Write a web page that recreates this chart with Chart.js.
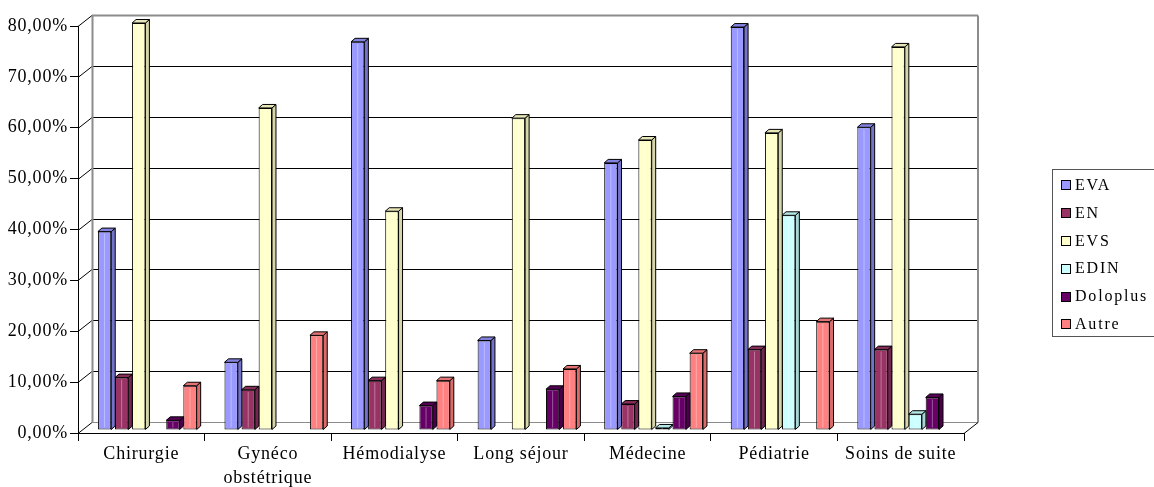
<!DOCTYPE html>
<html><head><meta charset="utf-8">
<script src="https://cdn.jsdelivr.net/npm/chart.js@4.4.1/dist/chart.umd.min.js"></script>
<style>
html,body{margin:0;padding:0;background:#fff;overflow:hidden;}
#wrap{position:relative;width:1154px;height:487px;overflow:hidden;}
#legend{position:absolute;left:1052px;top:169px;width:130px;height:168px;border:1px solid #555;box-sizing:border-box;font-family:"Liberation Serif","Times New Roman",serif;font-size:16px;letter-spacing:1.8px;color:#000;}
.item{position:absolute;left:8px;height:20px;line-height:20px;white-space:nowrap;}
.sw{display:inline-block;width:8px;height:8px;border:1px solid #000;margin-right:4px;vertical-align:middle;position:relative;top:-1px;}
</style></head>
<body>
<div id="wrap"><canvas id="c" width="1154" height="487"></canvas><div id="legend"></div></div>
<script>
// ---- data ----
const categories = ['Chirurgie', ['Gynéco', 'obstétrique'], 'Hémodialyse', 'Long séjour', 'Médecine', 'Pédiatrie', 'Soins de suite'];
const seriesNames = ['EVA', 'EN', 'EVS', 'EDIN', 'Doloplus', 'Autre'];
const eva      = [39.0, 13.3, 76.3, 17.6, 52.5, 79.2, 59.5];
const en       = [10.3,  7.9,  9.7, null,  5.1, 15.8, 15.8];
const evs      = [80.0, 63.3, 43.0, 61.3, 57.0, 58.4, 75.3];
const edin     = [null, null, null, null,  0.4, 42.2,  3.1];
const doloplus = [ 1.9, null,  4.8,  8.0,  6.6, null,  6.4];
const autre    = [ 8.7, 18.6,  9.7, 12.0, 15.1, 21.3, null];
const yTickValues = [0, 10, 20, 30, 40, 50, 60, 70, 80];
const yTickLabels = ['0,00%', '10,00%', '20,00%', '30,00%', '40,00%', '50,00%', '60,00%', '70,00%', '80,00%'];

// ---- styles ----
const frontColors = ['#9999FF', '#993366', '#FFFFCC', '#CCFFFF', '#660066', '#FF8080'];
const sideColors  = ['#7373CC', '#732650', '#D6D6AA', '#A8D6D6', '#4A004A', '#D96B6B'];
const topColors   = ['#8484E0', '#862D59', '#E6E6B8', '#B5E6E6', '#570057', '#E67373'];
const seriesValues = [eva, en, evs, edin, doloplus, autre];

const FONT = '"Liberation Serif", "Times New Roman", serif';
const BAR_SHIFT = {x: 6, y: -3};
const DEPTH = {x: 4, y: 3.5};
const WALL = {x: 14, y: 11};

const wall3d = {
  id: 'wall3d',
  beforeDraw(chart) {
    chart.ctx.letterSpacing = '0.8px';
  },
  beforeDatasetsDraw(chart) {
    const ctx = chart.ctx, xs = chart.scales.x, ys = chart.scales.y;
    ctx.letterSpacing = '0px';
    const L = xs.left, R = xs.right;
    ctx.save();
    ctx.lineWidth = 1;
    yTickValues.forEach(v => {
      const y = Math.round(ys.getPixelForValue(v)) + 0.5;
      const yb = y - WALL.y;
      ctx.strokeStyle = (v === 0 || v === 80) ? '#8c8c8c' : '#000';
      ctx.lineWidth = (v === 80) ? 2 : 1;
      ctx.beginPath(); ctx.moveTo(L + WALL.x, yb); ctx.lineTo(R + WALL.x, yb); ctx.stroke();
      ctx.lineWidth = 1;
      ctx.strokeStyle = '#000';
      ctx.beginPath(); ctx.moveTo(L, y); ctx.lineTo(L + WALL.x, yb); ctx.stroke();
    });
    const yTop = Math.round(ys.getPixelForValue(80)) + 0.5 - WALL.y;
    const y0 = Math.round(ys.getPixelForValue(0)) + 0.5;
    ctx.strokeStyle = '#8c8c8c';
    ctx.lineWidth = 2;
    ctx.beginPath(); ctx.moveTo(L + WALL.x + 0.5, yTop); ctx.lineTo(L + WALL.x + 0.5, y0 - WALL.y); ctx.stroke();
    ctx.beginPath(); ctx.moveTo(R + WALL.x, yTop); ctx.lineTo(R + WALL.x, y0 - WALL.y); ctx.stroke();
    ctx.lineWidth = 1;
    ctx.strokeStyle = '#000';
    ctx.beginPath(); ctx.moveTo(R, y0); ctx.lineTo(R + WALL.x, y0 - WALL.y); ctx.stroke();
    ctx.restore();
    ctx.save();
    ctx.translate(BAR_SHIFT.x, BAR_SHIFT.y);
  },
  afterDatasetsDraw(chart) {
    const ctx = chart.ctx;
    ctx.lineWidth = 1;
    ctx.strokeStyle = '#000';
    ctx.lineJoin = 'round';
    chart.data.datasets.forEach((ds, di) => {
      const meta = chart.getDatasetMeta(di);
      meta.data.forEach((bar, i) => {
        if (ds.data[i] == null) return;
        const p = bar.getProps(['x', 'y', 'base', 'width'], true);
        const l = p.x - p.width / 2, r = p.x + p.width / 2, t = p.y, b = p.base;
        ctx.fillStyle = sideColors[di];
        ctx.beginPath();
        ctx.moveTo(r, t); ctx.lineTo(r + DEPTH.x, t - DEPTH.y);
        ctx.lineTo(r + DEPTH.x, b - DEPTH.y); ctx.lineTo(r, b); ctx.closePath();
        ctx.fill(); ctx.stroke();
        ctx.fillStyle = topColors[di];
        ctx.beginPath();
        ctx.moveTo(l, t); ctx.lineTo(l + DEPTH.x, t - DEPTH.y);
        ctx.lineTo(r + DEPTH.x, t - DEPTH.y); ctx.lineTo(r, t); ctx.closePath();
        ctx.fill(); ctx.stroke();
        ctx.save();
        ctx.strokeStyle = 'rgba(255,255,255,0.35)';
        ctx.beginPath(); ctx.moveTo(p.x, t + 2); ctx.lineTo(p.x, b - 2); ctx.stroke();
        ctx.restore();
      });
    });
    ctx.restore();
  }
};

const datasets = seriesNames.map((name, i) => ({
  label: name,
  data: seriesValues[i],
  backgroundColor: frontColors[i],
  borderColor: '#000',
  borderWidth: 1,
  borderSkipped: false,
  categoryPercentage: 0.81,
  barPercentage: 0.78
}));

new Chart(document.getElementById('c'), {
  type: 'bar',
  data: { labels: categories, datasets },
  plugins: [wall3d],
  options: {
    responsive: false,
    animation: false,
    devicePixelRatio: 1,
    events: [],
    layout: { padding: { left: 0, right: 190, top: 26, bottom: 0 } },
    plugins: { legend: { display: false }, tooltip: { enabled: false } },
    scales: {
      x: {
        offset: true,
        grid: { display: true, offset: true, drawOnChartArea: false, drawTicks: true, tickLength: 8, color: '#000', lineWidth: 1 },
        border: { display: true, color: '#000', width: 1 },
        ticks: { color: '#000', font: { family: FONT, size: 18, lineHeight: 1.3 }, padding: 2, maxRotation: 0, autoSkip: false },
        afterFit(s) { s.height = 54; }
      },
      y: {
        min: 0, max: 80,
        afterBuildTicks(s) { s.ticks = yTickValues.map(v => ({ value: v })); },
        grid: { display: true, drawOnChartArea: false, drawTicks: true, tickLength: 8, color: '#000', lineWidth: 1 },
        border: { display: true, color: '#000', width: 1 },
        ticks: { color: '#000', font: { family: FONT, size: 18 }, padding: 2,
          callback: (v) => yTickLabels[yTickValues.indexOf(v)] },
        afterFit(s) { s.width = 78; }
      }
    }
  }
});

const lg = document.getElementById('legend');
seriesNames.forEach((name, i) => {
  const d = document.createElement('div');
  d.className = 'item';
  d.style.top = (5 + i * 27.8) + 'px';
  d.innerHTML = '<span class="sw" style="background:' + frontColors[i] + '"></span>' + name;
  lg.appendChild(d);
});
</script>
</body></html>
